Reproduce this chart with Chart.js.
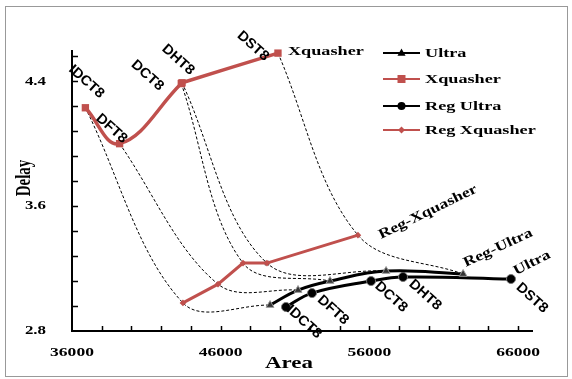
<!DOCTYPE html>
<html>
<head>
<meta charset="utf-8">
<script src="https://cdn.jsdelivr.net/npm/chart.js@4.4.1/dist/chart.umd.min.js"></script>
<style>
  html, body { margin: 0; padding: 0; background: #fff; }
  #wrap { width: 572px; height: 379px; }
</style>
</head>
<body>
<div id="wrap"><canvas id="chart" width="572" height="379"></canvas></div>
<script>
// values
const transforms = ['IDCT8', 'DFT8', 'DCT8', 'DHT8', 'DST8'];
const xqArea = [36900, 39200, 43350, 43400, 49850];
const xqDelay = [4.23, 4.00, 4.385, 4.39, 4.58];
const regXqArea = [43460, 45820, 47500, 49110, 55230];
const regXqDelay = [2.98, 3.10, 3.235, 3.235, 3.414];
const ultraArea = [49320, 51200, 53350, 57120, 62300];
const ultraDelay = [2.966, 3.062, 3.12, 3.184, 3.165];
const regUltraArea = [50390, 52140, 56110, 58260, 65520];
const regUltraDelay = [2.954, 3.043, 3.12, 3.146, 3.133];
const xTickLabels = [36000, 46000, 56000, 66000];
const yTickLabels = [2.8, 3.6, 4.4];

const RED = '#C0504D';

function pts(xs, ys) {
    return xs.map((x, i) => ({ x: x, y: ys[i] }));
}

function drawText(ctx, text, x, y, angle, font, sx, sy, align) {
    ctx.save();
    ctx.translate(x, y);
    ctx.rotate(angle * Math.PI / 180);
    ctx.scale(sx, sy);
    ctx.font = font;
    ctx.textAlign = align || 'center';
    ctx.textBaseline = 'middle';
    ctx.fillStyle = '#000';
    ctx.fillText(text, 0, 0);
    ctx.restore();
}

function drawMarker(ctx, style, x, y, r, fill) {
    ctx.save();
    ctx.fillStyle = fill;
    ctx.beginPath();
    if (style === 'triangle') {
        ctx.moveTo(x, y - r);
        ctx.lineTo(x + r * 0.9, y + r * 0.6);
        ctx.lineTo(x - r * 0.9, y + r * 0.6);
        ctx.closePath();
    } else if (style === 'rect') {
        ctx.rect(x - r, y - r, 2 * r, 2 * r);
    } else if (style === 'circle') {
        ctx.arc(x, y, r, 0, Math.PI * 2);
    } else {
        ctx.moveTo(x, y - r);
        ctx.lineTo(x + r, y);
        ctx.lineTo(x, y + r);
        ctx.lineTo(x - r, y);
        ctx.closePath();
    }
    ctx.fill();
    ctx.restore();
}

// connector curves: Xquasher -> Reg Xquasher -> Ultra for each transform
const connectors = transforms.map((t, i) => ({
    label: 'link ' + t,
    data: [
        { x: xqArea[i], y: xqDelay[i] },
        { x: regXqArea[i], y: regXqDelay[i] },
        { x: ultraArea[i], y: ultraDelay[i] }
    ],
    borderColor: '#000',
    borderWidth: 1,
    borderDash: [3, 2],
    tension: 0.35,
    pointRadius: t === 'DHT8' ? [3, 3, 0] : 0,
    pointStyle: 'crossRot',
    pointBorderColor: '#444',
    pointBorderWidth: 1.5,
    order: 5
}));

const mainSeries = [
    {
        label: 'Ultra',
        data: pts(ultraArea, ultraDelay),
        borderColor: '#000',
        borderWidth: 3,
        tension: 0.4,
        pointStyle: 'triangle',
        pointRadius: 4.5,
        pointBackgroundColor: '#333',
        pointBorderColor: '#999',
        pointBorderWidth: 1,
        clip: false,
        order: 1
    },
    {
        label: 'Xquasher',
        data: pts(xqArea, xqDelay),
        borderColor: RED,
        borderWidth: 3.5,
        tension: 0.4,
        pointStyle: 'rect',
        pointRadius: 5.2,
        pointBackgroundColor: RED,
        pointBorderColor: RED,
        pointBorderWidth: 0,
        clip: false,
        order: 1
    },
    {
        label: 'Reg Ultra',
        data: pts(regUltraArea, regUltraDelay),
        borderColor: '#000',
        borderWidth: 3,
        tension: 0.4,
        pointStyle: 'circle',
        pointRadius: 4.5,
        pointBackgroundColor: '#000',
        pointBorderColor: '#777',
        pointBorderWidth: 1,
        clip: false,
        order: 1
    },
    {
        label: 'Reg Xquasher',
        data: pts(regXqArea, regXqDelay),
        borderColor: RED,
        borderWidth: 3,
        tension: 0,
        pointStyle: 'rectRot',
        pointRadius: 3.3,
        pointBackgroundColor: RED,
        pointBorderColor: RED,
        pointBorderWidth: 0,
        clip: false,
        order: 1
    }
];

const legendItems = [
    { text: 'Ultra', color: '#000', style: 'triangle', r: 4.5 },
    { text: 'Xquasher', color: RED, style: 'rect', r: 4 },
    { text: 'Reg Ultra', color: '#000', style: 'circle', r: 4 },
    { text: 'Reg Xquasher', color: RED, style: 'diamond', r: 3.5 }
];

const serif = '"Liberation Serif", "Times New Roman", serif';
const sans = '"Liberation Sans", Arial, sans-serif';

const decorPlugin = {
    id: 'decor',
    beforeDraw(chart) {
        const ctx = chart.ctx;
        ctx.save();
        ctx.strokeStyle = '#999';
        ctx.lineWidth = 1;
        ctx.strokeRect(5.5, 6.5, 562, 370);
        ctx.restore();
    },
    beforeDatasetsDraw(chart) {
        const ctx = chart.ctx;
        const a = chart.chartArea;
        const xs = chart.scales.x, ys = chart.scales.y;
        ctx.save();
        ctx.strokeStyle = '#000';
        ctx.lineWidth = 2;
        ctx.beginPath();
        ctx.moveTo(a.left, a.top);
        ctx.lineTo(a.left, a.bottom);
        ctx.lineTo(a.right, a.bottom);
        ctx.stroke();
        ctx.lineWidth = 1.5;
        ctx.beginPath();
        for (let v = 2.96; v <= 4.6; v += 0.16) {
            const py = Math.round(ys.getPixelForValue(v)) + 0.5;
            ctx.moveTo(a.left, py);
            ctx.lineTo(a.left + 6, py);
        }
        for (let v = 38000; v <= 66000; v += 2000) {
            const px = Math.round(xs.getPixelForValue(v)) + 0.5;
            ctx.moveTo(px, a.bottom);
            ctx.lineTo(px, a.bottom - 5);
        }
        ctx.stroke();
        ctx.restore();

        yTickLabels.forEach(v => {
            drawText(ctx, v.toFixed(1), 46, ys.getPixelForValue(v), 0, 'bold 13px ' + serif, 1.3, 1, 'right');
        });
        xTickLabels.forEach(v => {
            drawText(ctx, String(v), xs.getPixelForValue(v), 353, 0, 'bold 13px ' + serif, 1.35, 1, 'center');
        });
        drawText(ctx, 'Area', 289, 364, 0, 'bold 17px ' + serif, 1.35, 1, 'center');
        drawText(ctx, 'Delay', 25, 178, -90, 'bold 15px ' + serif, 1, 1.35, 'center');
    },
    afterDraw(chart) {
        const ctx = chart.ctx;
        // legend
        const rows = [53, 79, 106, 130];
        legendItems.forEach((it, i) => {
            const y = rows[i];
            ctx.save();
            ctx.strokeStyle = it.color;
            ctx.lineWidth = 2;
            ctx.beginPath();
            ctx.moveTo(383, y);
            ctx.lineTo(420, y);
            ctx.stroke();
            ctx.restore();
            drawMarker(ctx, it.style, 401.5, y, it.r, it.color);
            drawText(ctx, it.text, 425, y + 1, 0, 'bold 13px ' + serif, 1.4, 1, 'left');
        });

        // transform labels
        const up = chart.getDatasetMeta(6).data;   // Xquasher
        const low = chart.getDatasetMeta(7).data;  // Reg Ultra
        const upOff = [[1, -26], [-8, -15], [-34, -8], [-4, -23], [-25, -7]];
        const lowOff = [[18, 15], [21, 17], [20, 16], [22, 18], [21, 19]];
        transforms.forEach((t, i) => {
            drawText(ctx, t, up[i].x + upOff[i][0], up[i].y + upOff[i][1], 42, 'bold 14px ' + sans, 1.05, 1, 'center');
            drawText(ctx, t, low[i].x + lowOff[i][0], low[i].y + lowOff[i][1], 42, 'bold 14px ' + sans, 1.05, 1, 'center');
        });

        // series names
        const xqEnd = up[4];
        const rxEnd = chart.getDatasetMeta(8).data[4];
        const ulEnd = chart.getDatasetMeta(5).data[4];
        const ruEnd = low[4];
        drawText(ctx, 'Xquasher', xqEnd.x + 10, xqEnd.y - 1, 0, 'bold 13px ' + serif, 1.4, 1, 'left');
        drawText(ctx, 'Reg-Xquasher', rxEnd.x + 70, rxEnd.y - 23, -26, 'bold 14px ' + serif, 1.25, 1, 'center');
        drawText(ctx, 'Reg-Ultra', ulEnd.x + 35, ulEnd.y - 26, -25, 'bold 14px ' + serif, 1.25, 1, 'center');
        drawText(ctx, 'Ultra', ruEnd.x + 21, ruEnd.y - 16, -27, 'bold 14px ' + serif, 1.25, 1, 'center');
    }
};

const ctx = document.getElementById('chart').getContext('2d');
new Chart(ctx, {
    type: 'line',
    data: { datasets: connectors.concat(mainSeries) },
    options: {
        responsive: false,
        animation: false,
        devicePixelRatio: 1,
        layout: { padding: { top: 50, right: 39, left: 0, bottom: 0 } },
        plugins: {
            legend: { display: false },
            tooltip: { enabled: false }
        },
        scales: {
            x: {
                type: 'linear',
                min: 36000,
                max: 67000,
                grid: { display: false },
                border: { display: false },
                ticks: { display: false },
                afterFit: function (s) { s.height = 48; }
            },
            y: {
                type: 'linear',
                min: 2.8,
                max: 4.6,
                grid: { display: false },
                border: { display: false },
                ticks: { display: false },
                afterFit: function (s) { s.width = 72; }
            }
        }
    },
    plugins: [decorPlugin]
});
</script>
</body>
</html>
